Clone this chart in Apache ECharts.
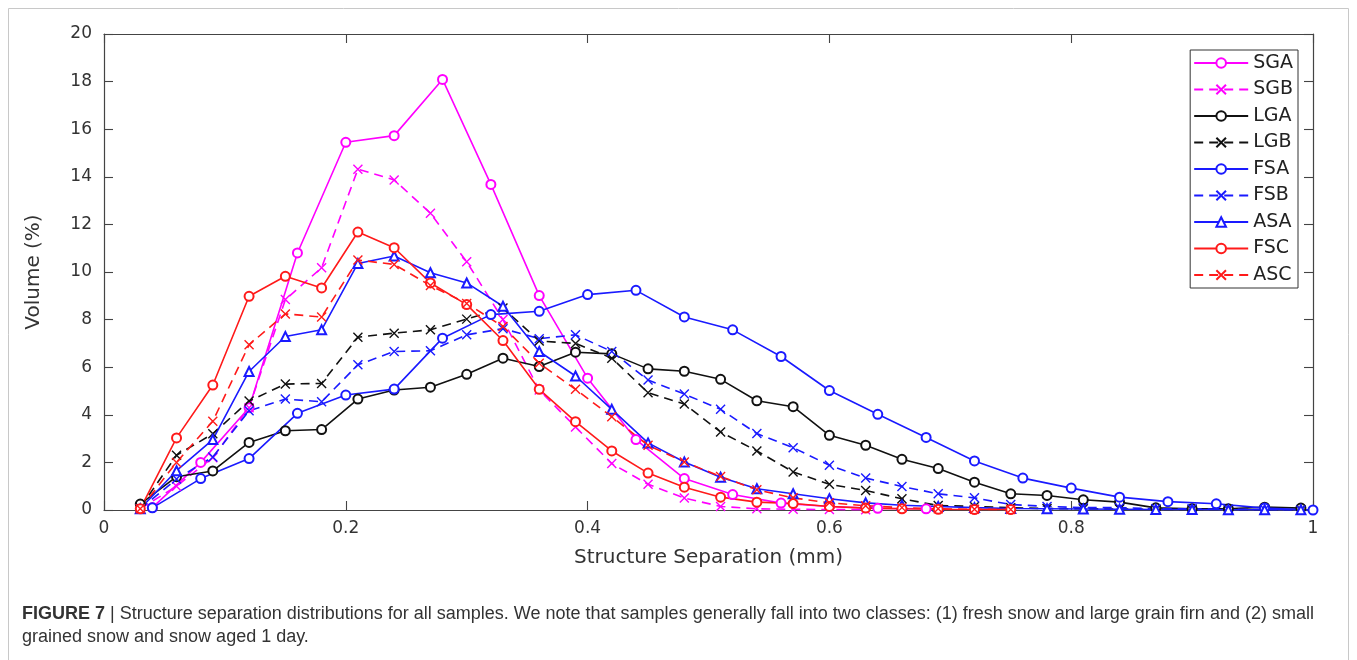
<!DOCTYPE html>
<html>
<head>
<meta charset="utf-8">
<script src="https://cdn.jsdelivr.net/npm/echarts@6/dist/echarts.min.js"></script>
<style>
html,body{margin:0;padding:0;background:#fff;}
#chart{width:1357px;height:660px;}
</style>
</head>
<body>
<div id="chart"></div>
<script>
// x positions (mm)
const x03 = [0.03,0.06,0.09,0.12,0.15,0.18,0.21,0.24,0.27,0.30,0.33,0.36,0.39,0.42,0.45,0.48,0.51,0.54,0.57,0.60,0.63,0.66,0.69,0.72,0.75,0.78,0.81,0.84,0.87,0.90,0.93,0.96,0.99];
const x04 = [0.04,0.08,0.12,0.16,0.20,0.24,0.28,0.32,0.36,0.40,0.44,0.48,0.52,0.56,0.60,0.64,0.68,0.72,0.76,0.80,0.84,0.88,0.92,0.96,1.00];

// Volume (%) per sample
const SGA = [0.1,2.0,4.3,10.8,15.45,15.73,18.09,13.68,9.01,5.54,2.96,1.32,0.65,0.29,0.15,0.07,0.05];
const SGB = [0.05,1.0,2.2,4.3,8.84,10.18,14.32,13.87,12.47,10.43,8.0,5.04,3.49,1.95,1.08,0.5,0.15,0.05,0.03,0.02,0.01];
const LGA = [0.25,1.4,1.64,2.84,3.33,3.38,4.66,5.04,5.16,5.7,6.38,6.03,6.63,6.56,5.93,5.83,5.49,4.59,4.34,3.14,2.72,2.13,1.74,1.17,0.68,0.61,0.43,0.33,0.09,0.05,0.05,0.12,0.08];
const LGB = [0.1,2.3,3.2,4.58,5.29,5.32,7.26,7.43,7.57,8.02,8.49,7.1,7.0,6.38,4.93,4.45,3.28,2.48,1.6,1.08,0.82,0.47,0.19,0.15,0.1,0.06,0.05,0.04,0.03,0.02,0.02,0.01,0.01];
const FSA = [0.09,1.32,2.16,4.06,4.83,5.08,7.22,8.21,8.35,9.05,9.23,8.11,7.57,6.45,5.02,4.02,3.05,2.06,1.34,0.92,0.54,0.35,0.26,0.08,0.0];
const FSB = [0.05,1.3,2.23,4.17,4.66,4.55,6.1,6.66,6.69,7.36,7.62,7.2,7.36,6.66,5.46,4.87,4.23,3.21,2.62,1.88,1.34,0.99,0.68,0.51,0.23,0.15,0.1,0.1,0.05,0.05,0.03,0.02,0.0];
const ASA = [0.05,1.65,2.96,5.82,7.29,7.57,10.36,10.67,9.97,9.54,8.56,6.66,5.63,4.23,2.82,2.02,1.38,0.89,0.68,0.47,0.3,0.2,0.15,0.1,0.06,0.05,0.04,0.03,0.02,0.02,0.01,0.01,0.01];
const FSC = [0.05,3.03,5.25,8.98,9.82,9.33,11.68,11.02,9.54,8.63,7.12,5.07,3.71,2.48,1.55,0.96,0.54,0.33,0.27,0.15,0.08,0.05,0.03,0.02,0.02];
const ASC = [0.05,2.0,3.73,6.94,8.24,8.11,10.5,10.32,9.43,8.68,7.71,6.17,5.07,3.92,2.72,2.02,1.41,0.85,0.51,0.3,0.18,0.1,0.05,0.03,0.02];

const seriesNames = ['SGA','SGB','LGA','LGB','FSA','FSB','ASA','FSC','ASC'];
const xTicks = [0,0.2,0.4,0.6,0.8,1];
const yTicks = [0,2,4,6,8,10,12,14,16,18,20];

const MAG='#ff00ff', BLK='#111111', BLU='#1a1aff', RED='#ff1a1a';
const XSYM = 'path://M0,0L10,10M0,10L10,0';
const defs = [
  {name:'SGA', xs:x04, ys:SGA, color:MAG, dash:false, sym:'emptyCircle'},
  {name:'SGB', xs:x03, ys:SGB, color:MAG, dash:true,  sym:XSYM},
  {name:'LGA', xs:x03, ys:LGA, color:BLK, dash:false, sym:'emptyCircle'},
  {name:'LGB', xs:x03, ys:LGB, color:BLK, dash:true,  sym:XSYM},
  {name:'FSA', xs:x04, ys:FSA, color:BLU, dash:false, sym:'emptyCircle'},
  {name:'FSB', xs:x03, ys:FSB, color:BLU, dash:true,  sym:XSYM},
  {name:'ASA', xs:x03, ys:ASA, color:BLU, dash:false, sym:'emptyTriangle'},
  {name:'FSC', xs:x03, ys:FSC, color:RED, dash:false, sym:'emptyCircle'},
  {name:'ASC', xs:x03, ys:ASC, color:RED, dash:true,  sym:XSYM}
];

const series = defs.map(d => ({
  name: d.name,
  type: 'line',
  xAxisIndex: 0, yAxisIndex: 0,
  data: d.ys.map((v,i)=>[d.xs[i], v]),
  symbol: d.sym,
  symbolSize: d.sym === XSYM ? 9 : 9,
  showAllSymbol: true,
  animation: false,
  lineStyle: {color: d.color, width: 1.6, type: d.dash ? [9,6] : 'solid'},
  itemStyle: {color: d.color, borderColor: d.color, borderWidth: 1.4},
  emphasis: {disabled: true}
}));

const axisCol = '#444';
function axisCommon(extra){
  return Object.assign({
    type:'value',
    axisLine:{show:true, onZero:false, lineStyle:{color:axisCol, width:1.2}},
    axisTick:{show:true, inside:true, length:9, lineStyle:{color:axisCol, width:1.1}},
    splitLine:{show:false}
  }, extra);
}
const chart = echarts.init(document.getElementById('chart'), null, {renderer:'canvas'});
chart.setOption({
  backgroundColor: '#fff',
  animation: false,
  textStyle: {fontFamily: 'DejaVu Sans'},
  grid: {left: 104, right: 44, top: 34, bottom: 150, containLabel: false},
  legend: {
    data: seriesNames,
    orient: 'vertical',
    right: 59, top: 50,
    itemWidth: 54, itemHeight: 12, itemGap: 4.5,
    padding: [2, 5, 2, 3],
    borderColor: '#333', borderWidth: 1,
    backgroundColor: '#fff',
    textStyle: {fontSize: 19, color: '#222', lineHeight: 22, fontFamily: 'DejaVu Sans'},
    selectedMode: false
  },
  xAxis: [
    axisCommon({position:'bottom', min:0, max:1, interval:0.2,
     axisLabel:{show:true, fontSize:17, color:'#333', margin:10,
       formatter: v => xTicks.indexOf(+v.toFixed(2))>=0 ? String(+v.toFixed(2)) : ''},
     name:'Structure Separation (mm)', nameLocation:'middle', nameGap:38,
     nameTextStyle:{fontSize:20, color:'#333'}}),
    axisCommon({position:'top', min:0, max:1, interval:0.2, axisLabel:{show:false}})
  ],
  yAxis: [
    axisCommon({position:'left', min:0, max:20, interval:2,
     axisLabel:{show:true, fontSize:17, color:'#333', margin:12,
       formatter: v => yTicks.indexOf(v)>=0 ? String(v) : ''},
     name:'Volume (%)', nameLocation:'middle', nameGap:60, nameRotate:90,
     nameTextStyle:{fontSize:20, color:'#333'}}),
    axisCommon({position:'right', min:0, max:20, interval:2, axisLabel:{show:false}})
  ],
  series: series,
  graphic: [
    {type:'rect', shape:{x:8.5, y:8.5, width:1340, height:700},
     style:{fill:'none', stroke:'#c8c8c8', lineWidth:1}, silent:true, z:-10},
    {type:'text', left:22, top:603,
     style:{
       text:'{b|FIGURE 7} | Structure separation distributions for all samples. We note that samples generally fall into two classes: (1) fresh snow and large grain firn and (2) small\ngrained snow and snow aged 1 day.',
       font:'18px "Liberation Sans"', fill:'#333', lineHeight:23,
       rich:{b:{font:'bold 18px "Liberation Sans"', fill:'#333', lineHeight:23}}
     }}
  ]
});
</script>
</body>
</html>
